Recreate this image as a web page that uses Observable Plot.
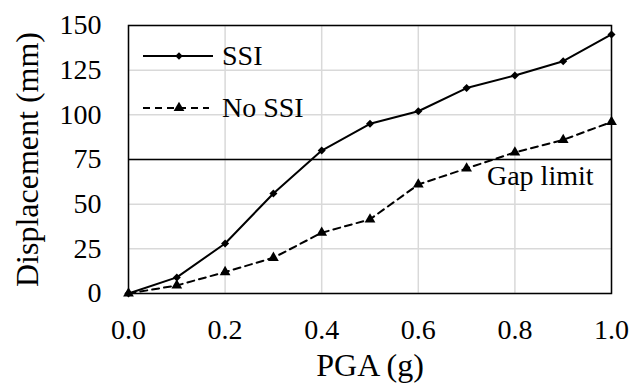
<!DOCTYPE html>
<html>
<head>
<meta charset="utf-8">
<script src="https://cdn.jsdelivr.net/npm/d3@7"></script>
<script src="https://cdn.jsdelivr.net/npm/@observablehq/plot@0.6"></script>
<style>
  html, body { margin: 0; padding: 0; background: white; }
  #wrap { position: relative; width: 634px; height: 388px; }
  #wrap svg, #wrap svg text, #wrap svg g {
    font-family: "Liberation Serif", "Times New Roman", Times, serif !important;
  }
  #wrap g[aria-label="x-axis label"], #wrap g[aria-label="y-axis label"] { font-size: 32px; }
  #legend { position: absolute; left: 0; top: 0; pointer-events: none; }
</style>
</head>
<body>
<div id="wrap"></div>
<script>
const pga = [0, 0.1, 0.2, 0.3, 0.4, 0.5, 0.6, 0.7, 0.8, 0.9, 1.0];
const ssi = [0, 9, 28, 56, 80, 95, 102, 115, 122, 130, 145];
const noSsi = [0, 4.5, 12, 20, 34, 41.5, 61, 70, 79, 86, 96];
const seriesNames = ["SSI", "No SSI"];
const xTicks = [0, 0.2, 0.4, 0.6, 0.8, 1.0];
const yTicks = [0, 25, 50, 75, 100, 125, 150];
const gapLimit = 75;
const gapLabel = "Gap limit";
const xLabel = "PGA (g)";
const yLabel = "Displacement (mm)";

const ssiData = pga.map((x, i) => ({x, y: ssi[i]}));
const noSsiData = pga.map((x, i) => ({x, y: noSsi[i]}));

const chart = Plot.plot({
  width: 634,
  height: 388,
  marginLeft: 128,
  marginRight: 23,
  marginTop: 25,
  marginBottom: 95,
  style: {fontSize: "28px", color: "black", background: "white"},
  x: {domain: [0, 1], ticks: xTicks, tickFormat: ".1f", tickSize: 0, tickPadding: 26,
      label: xLabel, labelAnchor: "center", labelOffset: 82, labelArrow: "none"},
  y: {domain: [0, 150], ticks: yTicks, tickSize: 0, tickPadding: 27,
      label: yLabel, labelAnchor: "center", labelOffset: 113, labelArrow: "none"},
  marks: [
    Plot.gridX(xTicks, {stroke: "#d9d9d9", strokeOpacity: 1, strokeWidth: 1.5}),
    Plot.gridY(yTicks, {stroke: "#d9d9d9", strokeOpacity: 1, strokeWidth: 1.5}),
    Plot.frame({stroke: "black", strokeWidth: 1.5}),
    Plot.ruleY([gapLimit], {stroke: "black", strokeWidth: 1.5}),
    Plot.text([gapLabel], {y: [gapLimit], text: d => d, frameAnchor: "right", textAnchor: "end",
      lineAnchor: "top", dx: -18, dy: 6, fontSize: 28, fill: "black"}),
    Plot.line(noSsiData, {x: "x", y: "y", stroke: "black", strokeWidth: 2, strokeDasharray: "7,5"}),
    Plot.dot(noSsiData, {x: "x", y: "y", symbol: "triangle", r: 4, fill: "black", stroke: "none"}),
    Plot.line(ssiData, {x: "x", y: "y", stroke: "black", strokeWidth: 2}),
    Plot.dot(ssiData, {x: "x", y: "y", symbol: "square", rotate: 45, r: 3.2, fill: "black", stroke: "none"})
  ]
});
document.getElementById("wrap").appendChild(chart);

// Legend overlay (inside plot area, top-left)
const lg = d3.select("#wrap").append("svg").attr("id", "legend").attr("width", 634).attr("height", 388)
  .style("font-size", "28px");
const rows = [
  {name: seriesNames[0], dash: null, sym: d3.symbolSquare, size: Math.PI * 9, rot: 45, y: 56, x2: 213},
  {name: seriesNames[1], dash: "7,5", sym: d3.symbolTriangle, size: Math.PI * 16, rot: 0, y: 108, x2: 209}
];
rows.forEach(r => {
  const g = lg.append("g");
  g.append("line").attr("x1", 143).attr("x2", r.x2).attr("y1", r.y).attr("y2", r.y)
    .attr("stroke", "black").attr("stroke-width", 2).attr("stroke-dasharray", r.dash);
  g.append("path").attr("d", d3.symbol(r.sym, r.size)())
    .attr("transform", `translate(179,${r.y}) rotate(${r.rot})`).attr("fill", "black");
  g.append("text").attr("x", 222).attr("y", r.y).attr("dy", "0.33em").attr("fill", "black").text(r.name);
});
</script>
</body>
</html>
